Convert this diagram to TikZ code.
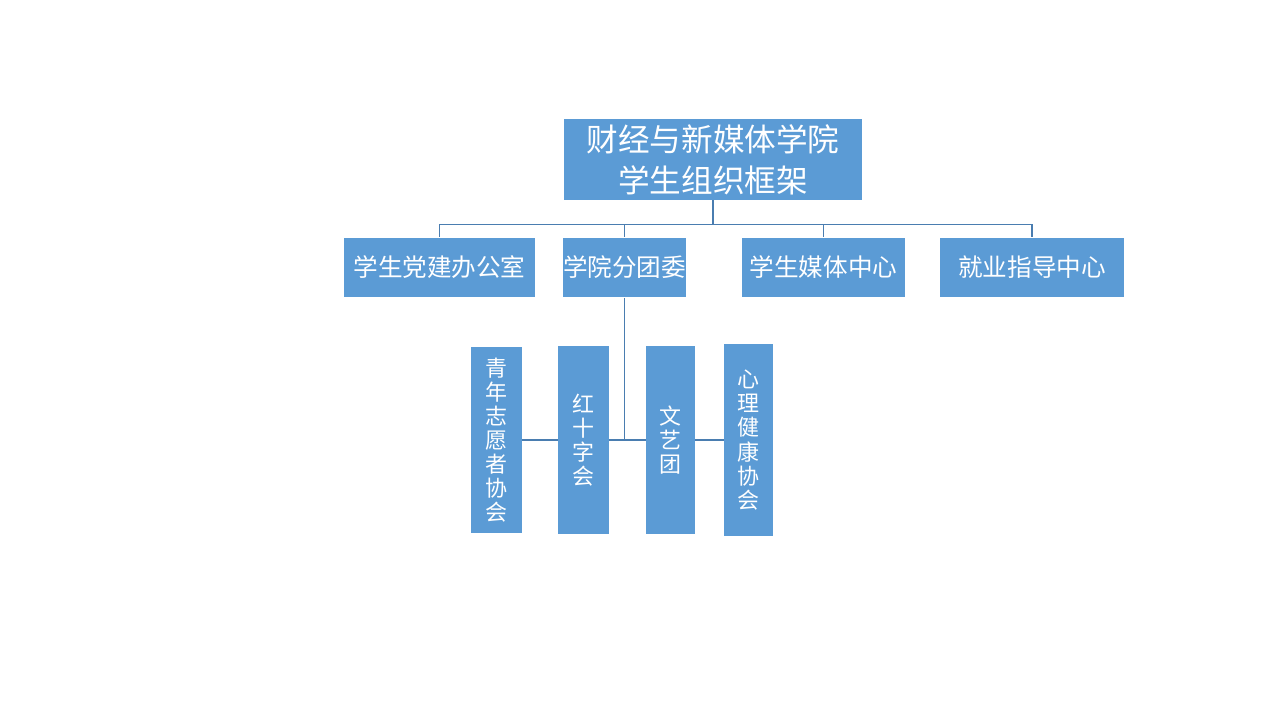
\documentclass[tikz,border=0pt]{standalone}
\usepackage{fontspec}
\setmainfont{Noto Sans CJK SC}
\definecolor{boxblue}{HTML}{5B9BD5}
\definecolor{lineblue}{HTML}{4A7DB0}
\tikzset{
	orgbox/.style = {fill=boxblue, text=white, inner sep=0pt, align=center},
	orgline/.style = {draw=lineblue, line width=0.6pt},
}

\begin{document}
\begin{tikzpicture}[x=0.02cm, y=-0.02cm]
		\useasboundingbox (0,0) rectangle (1280,720);
		% top
		\node [orgbox, minimum width=5.98cm, minimum height=1.62cm, font=\fontsize{18}{23.3}\selectfont] (top) at (713,159.5) {财经与新媒体学院\\学生组织框架};

		% second row
		\node [orgbox, minimum width=3.82cm, minimum height=1.2cm, font=\fontsize{14}{16}\selectfont] (dang) at (439.5,267.5) {学生党建办公室};
		\node [orgbox, minimum width=2.42cm, minimum height=1.2cm, font=\fontsize{14}{16}\selectfont] (tuan) at (624.5,267.5) {学院分团委};
		\node [orgbox, minimum width=3.26cm, minimum height=1.2cm, font=\fontsize{14}{16}\selectfont] (meiti) at (823.5,267.5) {学生媒体中心};
		\node [orgbox, minimum width=3.68cm, minimum height=1.2cm, font=\fontsize{14}{16}\selectfont] (jiuye) at (1032,267.5) {就业指导中心};

		% third row
		\node [orgbox, minimum width=1.02cm, minimum height=3.72cm, font=\fontsize{12.5}{13.7}\selectfont] (qingnian) at (496.5,440) {青\\年\\志\\愿\\者\\协\\会};
		\node [orgbox, minimum width=1.02cm, minimum height=3.76cm, font=\fontsize{12.5}{13.7}\selectfont] (hongshizi) at (583.5,440) {红\\十\\字\\会};
		\node [orgbox, minimum width=0.98cm, minimum height=3.78cm, font=\fontsize{12.5}{13.7}\selectfont] (wenyi) at (670.5,440) {文\\艺\\团};
		\node [orgbox, minimum width=0.98cm, minimum height=3.84cm, font=\fontsize{12.5}{13.7}\selectfont] (xinli) at (748.5,440) {心\\理\\健\\康\\协\\会};

		\coordinate (bus) at (713,224.5);
		\draw [orgline] (top.south) -- (bus);
		\draw [orgline] (bus) -| (dang.north);
		\draw [orgline] (bus) -| (tuan.north);
		\draw [orgline] (bus) -| (meiti.north);
		\draw [orgline] (bus) -| (jiuye.north);

		\draw [orgline] (tuan.south) |- (hongshizi.east);
		\draw [orgline] (qingnian.east) -- (hongshizi.west);
		\draw [orgline] (hongshizi.east) -- (wenyi.west);
		\draw [orgline] (wenyi.east) -- (xinli.west);
	\end{tikzpicture}
\end{document}
